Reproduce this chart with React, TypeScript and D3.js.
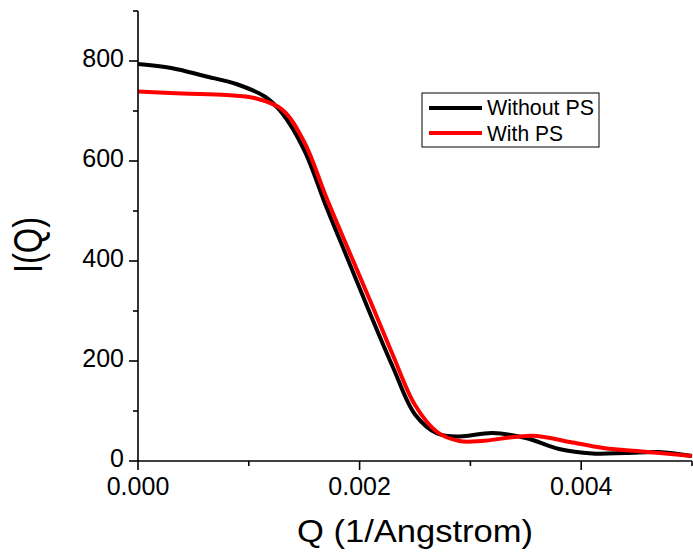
import React from "react";
import * as d3 from "d3";

// Q (1/Angstrom) and I(Q)
const qWithout = [0, 0.0003, 0.0006, 0.0009, 0.00115, 0.0013, 0.0015, 0.0017, 0.0019, 0.0021, 0.0023, 0.0025, 0.0027, 0.0029, 0.0032, 0.0035, 0.0038, 0.0041, 0.0044, 0.0047, 0.005];
const iWithout = [794, 786, 770, 753, 728, 696, 622, 508, 400, 292, 188, 93, 55, 49, 56, 46, 24, 15, 16, 18, 10];

const qWith = [0, 0.0004, 0.0008, 0.00105, 0.0013, 0.0015, 0.0017, 0.0019, 0.0021, 0.0023, 0.0025, 0.0027, 0.0029, 0.0031, 0.0034, 0.0036, 0.0039, 0.0042, 0.0046, 0.005];
const iWith = [739, 735, 732, 726, 703, 638, 527, 422, 318, 212, 112, 58, 40, 40, 48, 50, 38, 26, 18, 10];

const xMajor = [0, 0.002, 0.004];
const xMinor = [0.001, 0.003, 0.005];
const yMajor = [0, 200, 400, 600, 800];
const yMinor = [100, 300, 500, 700, 900];

const series = [
  { name: "Without PS", color: "#000000", q: qWithout, v: iWithout },
  { name: "With PS", color: "#ff0000", q: qWith, v: iWith },
];

const font = "Arial, 'Liberation Sans', sans-serif";

export default function App() {
  const W = 693;
  const H = 555;
  const x = d3.scaleLinear().domain([0, 0.005]).range([138, 692]);
  const y = d3.scaleLinear().domain([0, 900]).range([461, 11]);

  const line = d3
    .line<[number, number]>()
    .x((d) => x(d[0]))
    .y((d) => y(d[1]))
    .curve(d3.curveCatmullRom.alpha(0.5));

  return (
    <svg
      width={W}
      height={H}
      style={{ position: "absolute", left: 0, top: 0, background: "#fff" }}
      fontFamily={font}
    >
      {/* curves */}
      {series.map((s) => (
        <path
          key={s.name}
          d={line(s.q.map((q, i) => [q, s.v[i]] as [number, number])) || ""}
          fill="none"
          stroke={s.color}
          strokeWidth={4}
          strokeLinejoin="round"
        />
      ))}

      {/* axes */}
      <line x1={x(0)} x2={x(0.005)} y1={y(0)} y2={y(0)} stroke="#000" strokeWidth={1.6} />
      <line x1={x(0)} x2={x(0)} y1={y(0)} y2={y(900)} stroke="#000" strokeWidth={1.6} />

      {xMajor.map((t) => (
        <g key={"xM" + t}>
          <line x1={x(t)} x2={x(t)} y1={y(0)} y2={y(0) + 9} stroke="#000" strokeWidth={1.6} />
          <text x={x(t)} y={495} textAnchor="middle" fontSize={25}>
            {d3.format(".3f")(t)}
          </text>
        </g>
      ))}
      {xMinor.map((t) => (
        <line key={"xm" + t} x1={x(t)} x2={x(t)} y1={y(0)} y2={y(0) + 5} stroke="#000" strokeWidth={1.6} />
      ))}

      {yMajor.map((t) => (
        <g key={"yM" + t}>
          <line x1={x(0) - 9} x2={x(0)} y1={y(t)} y2={y(t)} stroke="#000" strokeWidth={1.6} />
          <text x={124} y={y(t) + 6} textAnchor="end" fontSize={25}>
            {t}
          </text>
        </g>
      ))}
      {yMinor.map((t) => (
        <line key={"ym" + t} x1={x(0) - 5} x2={x(0)} y1={y(t)} y2={y(t)} stroke="#000" strokeWidth={1.6} />
      ))}

      {/* axis titles */}
      <text x={415} y={542} textAnchor="middle" fontSize={31} textLength={236} lengthAdjust="spacingAndGlyphs">
        Q (1/Angstrom)
      </text>
      <text
        transform="translate(42,245) rotate(-90)"
        textAnchor="middle"
        fontSize={40}
        textLength={56}
        lengthAdjust="spacingAndGlyphs"
      >
        I(Q)
      </text>

      {/* legend */}
      <rect x={422} y={93} width={177} height={54} fill="#fff" stroke="#000" strokeWidth={1} />
      {series.map((s, i) => (
        <g key={"lg" + s.name}>
          <line x1={429} x2={482} y1={108 + i * 25} y2={108 + i * 25} stroke={s.color} strokeWidth={4} />
          <text x={487} y={115 + i * 26} fontSize={22} textLength={i === 0 ? 107 : 76} lengthAdjust="spacingAndGlyphs">
            {s.name}
          </text>
        </g>
      ))}
    </svg>
  );
}
